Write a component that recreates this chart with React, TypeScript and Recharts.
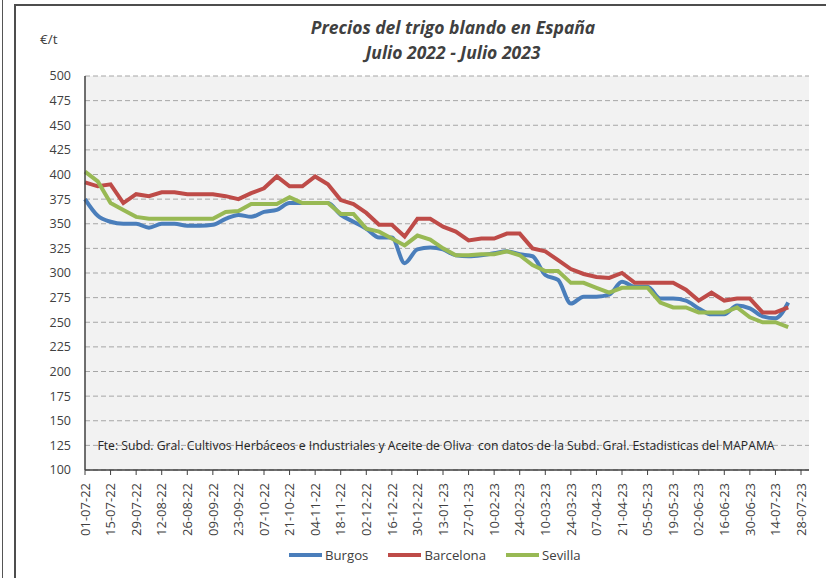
import { LineChart, Line, XAxis, YAxis, CartesianGrid } from 'recharts';

const FONT = '"Open Sans", "Noto Sans", sans-serif';
const BLUE = '#4a7ebb';
const RED = '#be4b48';
const GREEN = '#98b954';
const TEXT = '#404040';

// semanas (viernes) de julio 2022 a julio 2023
const dates = [
  '01-07-22', '08-07-22', '15-07-22', '22-07-22', '29-07-22',
  '05-08-22', '12-08-22', '19-08-22', '26-08-22',
  '02-09-22', '09-09-22', '16-09-22', '23-09-22', '30-09-22',
  '07-10-22', '14-10-22', '21-10-22', '28-10-22',
  '04-11-22', '11-11-22', '18-11-22', '25-11-22',
  '02-12-22', '09-12-22', '16-12-22', '23-12-22', '30-12-22',
  '06-01-23', '13-01-23', '20-01-23', '27-01-23',
  '03-02-23', '10-02-23', '17-02-23', '24-02-23',
  '03-03-23', '10-03-23', '17-03-23', '24-03-23', '31-03-23',
  '07-04-23', '14-04-23', '21-04-23', '28-04-23',
  '05-05-23', '12-05-23', '19-05-23', '26-05-23',
  '02-06-23', '09-06-23', '16-06-23', '23-06-23', '30-06-23',
  '07-07-23', '14-07-23', '21-07-23', '28-07-23',
];

const burgos = [
  375, 358, 352, 350, 350, 346, 350, 350, 348, 348,
  349, 355, 359, 357, 362, 364, 371, 371, 371, 371,
  359, 352, 345, 336, 336, 310, 324, 326, 324, 318,
  317, 318, 320, 322, 319, 317, 298, 293, 269, 276,
  276, 278, 291, 286, 286, 274, 274, 272, 264, 258,
  258, 267, 264, 256, 254, 270,
];

const barcelona = [
  392, 388, 390, 371, 380, 378, 382, 382, 380, 380,
  380, 378, 375, 381, 386, 398, 388, 388, 398, 390,
  374, 370, 361, 349, 349, 337, 355, 355, 347, 342,
  333, 335, 335, 340, 340, 325, 322, 313, 304, 299,
  296, 295, 300, 290, 290, 290, 290, 283, 272, 280,
  272, 274, 274, 260, 260, 265,
];

const sevilla = [
  403, 393, 371, 364, 357, 355, 355, 355, 355, 355,
  355, 362, 363, 370, 370, 370, 377, 371, 371, 371,
  360, 360, 345, 342, 335, 328, 338, 334, 325, 318,
  318, 319, 319, 322, 318, 308, 302, 302, 290, 290,
  285, 280, 285, 285, 285, 270, 265, 265, 260, 260,
  260, 265, 255, 250, 250, 245,
];

const yTicks = [100, 125, 150, 175, 200, 225, 250, 275, 300, 325, 350, 375, 400, 425, 450, 475, 500];

const data = dates.map((d, i) => ({
  date: d,
  burgos: burgos[i] ?? null,
  barcelona: barcelona[i] ?? null,
  sevilla: sevilla[i] ?? null,
}));

const DateTick = ({ x, y, payload }: any) => (
  <g transform={`translate(${x},${y + 6}) rotate(-90)`}>
    <text textAnchor="end" dy="0.36em" fontSize={13} fill={TEXT} fontFamily={FONT}>
      {payload.value}
    </text>
  </g>
);

const legendItems = [
  { name: 'Burgos', color: BLUE },
  { name: 'Barcelona', color: RED },
  { name: 'Sevilla', color: GREEN },
];

export default function App() {
  return (
    <div style={{ position: 'absolute', left: 0, top: 0, width: 826, height: 578, background: '#fff', overflow: 'hidden', fontFamily: FONT }}>
      <div style={{ position: 'absolute', left: 2, top: 0, width: 1, height: 578, background: '#555' }} />
      <div style={{ position: 'absolute', left: 14, top: 4, width: 900, height: 700, borderLeft: '2px solid #4d4d4d', borderTop: '2px solid #4d4d4d' }} />

      <div style={{ position: 'absolute', left: 0, width: 906, top: 15, textAlign: 'center', fontSize: 17.5, fontWeight: 700, fontStyle: 'italic', color: TEXT, lineHeight: '25px' }}>
        Precios del trigo blando en España<br />Julio 2022 - Julio 2023
      </div>
      <div style={{ position: 'absolute', left: 40, top: 30, fontSize: 13.5, color: TEXT }}>€/t</div>

      <div style={{ position: 'absolute', left: 0, top: 0 }}>
        <LineChart width={826} height={578} data={data} margin={{ top: 76, right: 17, left: 0, bottom: 38 }}>
          <CartesianGrid
            vertical={false}
            fill="#f2f2f2"
            stroke="#a6a6a6"
            strokeDasharray="5 3"
            yAxisId="l"
          />
          <XAxis
            dataKey="date"
            scale="point"
            padding={{ left: 0, right: 8 }}
            interval={1}
            height={70}
            tick={<DateTick />}
            tickSize={5}
            tickLine={{ stroke: '#404040' }}
            axisLine={{ stroke: '#404040', strokeWidth: 1.5 }}
          />
          <YAxis
            yAxisId="l"
            width={85}
            domain={[100, 500]}
            ticks={yTicks}
            interval={0}
            tickSize={0}
            tickMargin={14}
            tick={{ fontSize: 12.5, fill: TEXT, fontFamily: FONT }}
            axisLine={{ stroke: '#404040', strokeWidth: 1.5 }}
          />
          <YAxis
            yAxisId="r"
            orientation="right"
            width={0}
            domain={[100, 500]}
            tick={false}
            tickLine={false}
            axisLine={{ stroke: '#bfbfbf' }}
          />
          <Line yAxisId="l" dataKey="burgos" type="monotone" stroke={BLUE} strokeWidth={4} dot={false} isAnimationActive={false} />
          <Line yAxisId="l" dataKey="barcelona" type="linear" stroke={RED} strokeWidth={4} dot={false} isAnimationActive={false} />
          <Line yAxisId="l" dataKey="sevilla" type="linear" stroke={GREEN} strokeWidth={4} dot={false} isAnimationActive={false} />
        </LineChart>
      </div>

      <div style={{ position: 'absolute', left: 66, width: 740, top: 437, textAlign: 'center', fontSize: 12.2, color: '#262626', whiteSpace: 'nowrap' }}>
        Fte: Subd. Gral. Cultivos Herbáceos e Industriales y Aceite de Oliva&nbsp; con datos de la Subd. Gral. Estadisticas del MAPAMA
      </div>

      <div style={{ position: 'absolute', left: 289, top: 546, display: 'flex', alignItems: 'center', fontSize: 13.2, color: TEXT }}>
        {legendItems.map((it) => (
          <div key={it.name} style={{ display: 'flex', alignItems: 'center', marginRight: 20 }}>
            <div style={{ width: 33, height: 4, background: it.color, marginRight: 3 }} />
            <span>{it.name}</span>
          </div>
        ))}
      </div>
    </div>
  );
}
